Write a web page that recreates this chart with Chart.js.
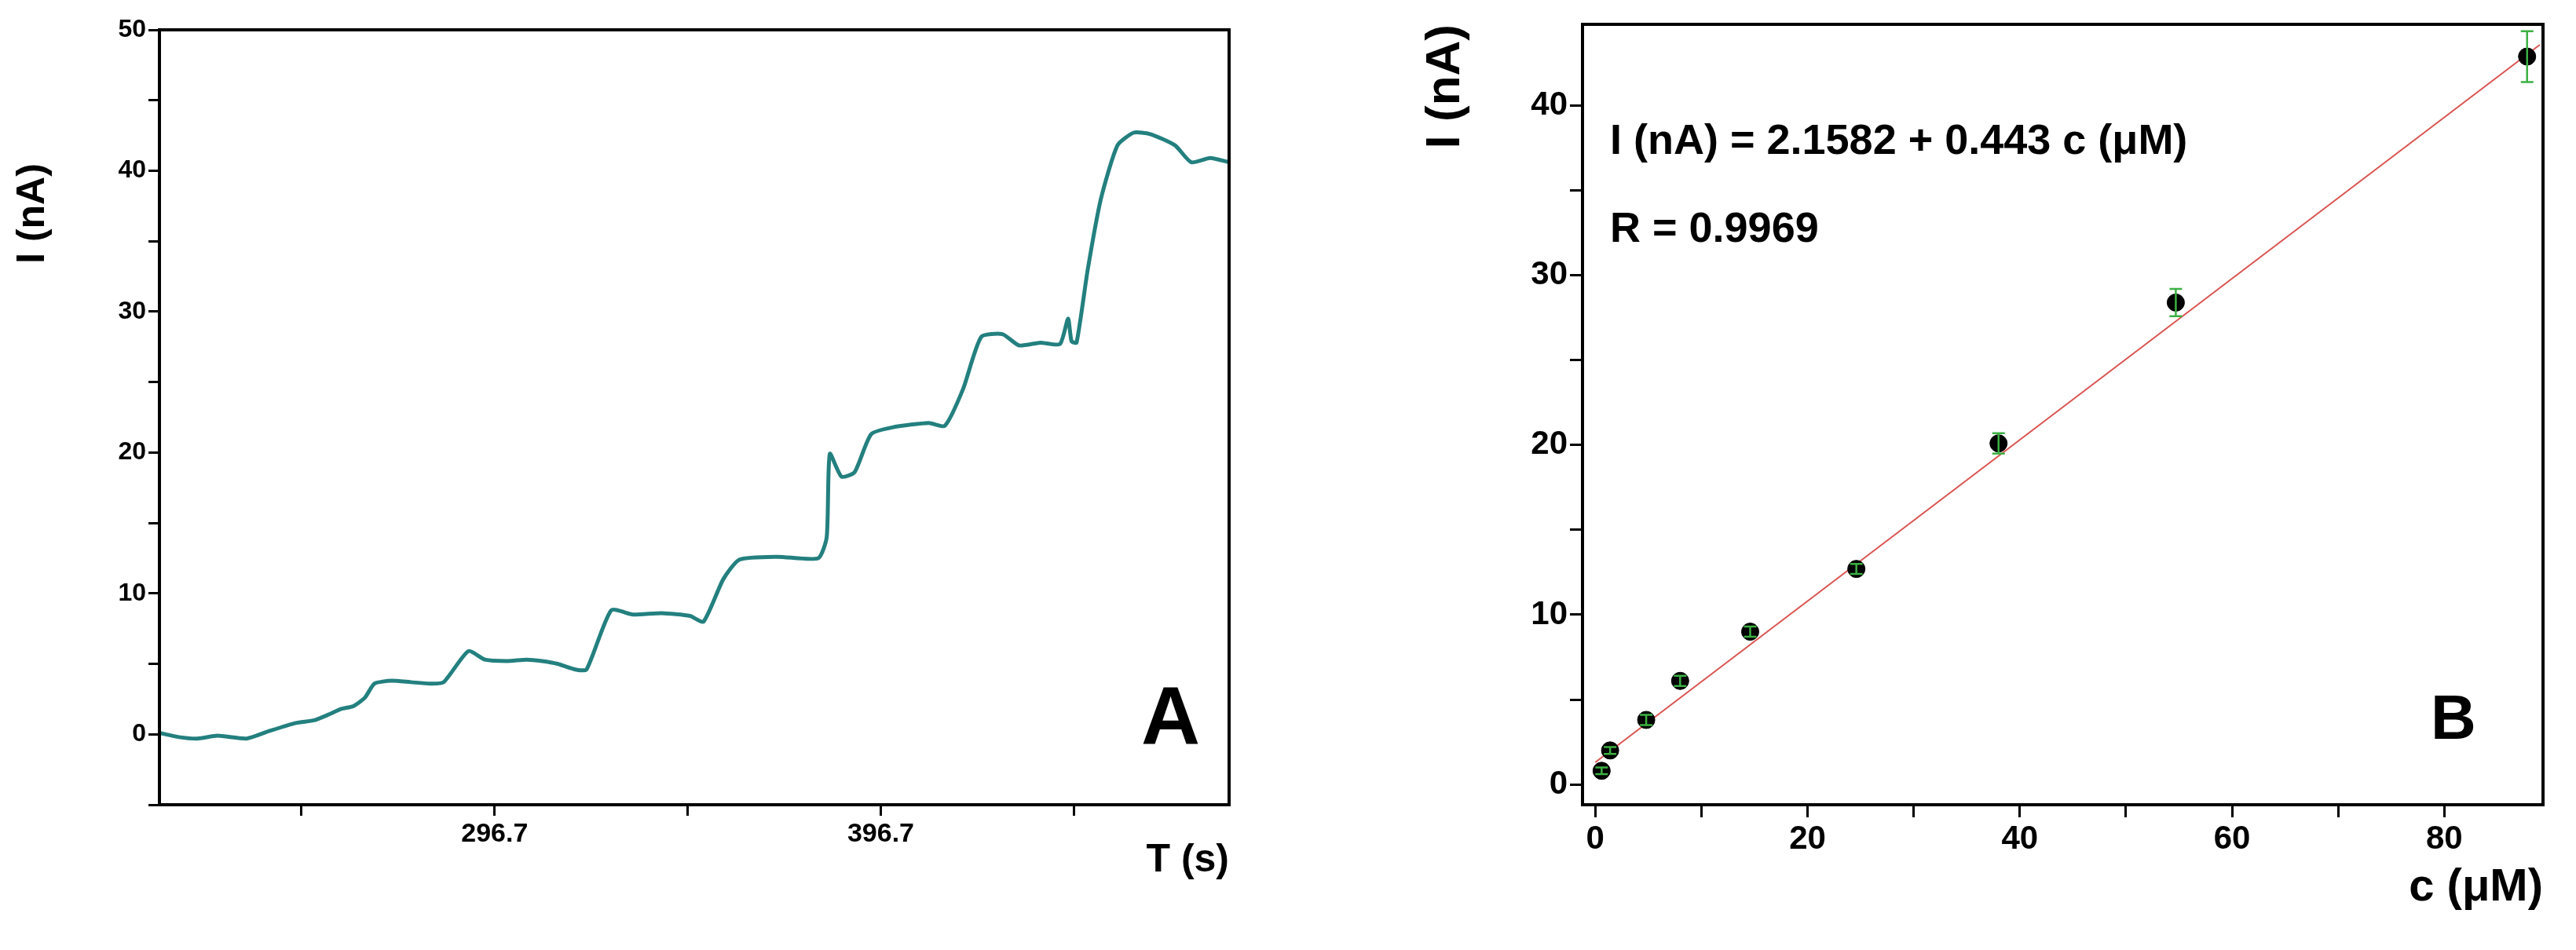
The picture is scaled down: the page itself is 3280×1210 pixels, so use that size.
<!DOCTYPE html>
<html><head><meta charset="utf-8">
<script src="https://cdn.jsdelivr.net/npm/chart.js@4/dist/chart.umd.min.js"></script>
<style>body{margin:0;background:#fff;width:3280px;height:1210px;position:relative;overflow:hidden}
#a{position:absolute;left:0;top:0}#b{position:absolute;left:1800px;top:0}</style></head>
<body><canvas id="a" width="1600" height="1210"></canvas><canvas id="b" width="1480" height="1210"></canvas>
<script>
const timeS=[209.9,215,219.7,225,232.5,238,245.2,250,253.7,257,260.1,263.1,265.6,270,275,280,283.5,289.9,294.2,300,305,309.0,313,317.6,320.5,326.9,332.5,340,347.3,350.8,355.9,360.1,370,380.5,382.7,383.5,386.5,389.9,394.2,400,409.1,413.3,418,422.7,428.2,432.5,438,443.1,445.2,446.1,447.4,450.3,453.7,458.0,462.2,466.5,472.9,477.1,482,486.9];
const currentA=[0.1,-0.2,-0.3,-0.1,-0.3,0.2,0.8,1.0,1.4,1.8,2.0,2.6,3.6,3.8,3.7,3.6,3.7,5.9,5.3,5.2,5.3,5.2,5.0,4.6,4.6,8.8,8.5,8.6,8.4,8.0,11.0,12.4,12.6,12.5,14.0,19.9,18.3,18.6,21.3,21.8,22.1,21.9,24.5,28.2,28.4,27.6,27.8,27.7,29.5,27.9,27.8,33.0,38.0,41.8,42.7,42.6,41.8,40.6,40.9,40.6];
const concUM=[0.6,1.4,4.8,8.0,14.6,24.6,38.0,54.7,87.8];
const currentB=[0.8,2.0,3.8,6.1,9.0,12.7,20.1,28.4,42.9];
const errB=[0.2,0.2,0.3,0.3,0.3,0.3,0.6,0.8,1.5];
const fitX=[0,89];
const fitY=[1.3,43.6];
const xTicksA=[246.7,296.7,346.7,396.7,446.7];
const xLabelsA=['296.7','396.7'];

const F='"Liberation Sans", Arial, sans-serif';
const box={id:'box',afterDraw(c){const a=c.chartArea,x=c.ctx;x.save();x.lineWidth=4;x.strokeStyle='#000';x.strokeRect(a.left,a.top,a.right-a.left,a.bottom-a.top);x.restore();}};
function txt(items){return{id:'txt',afterDraw(c){const x=c.ctx;x.save();x.fillStyle='#000';items.forEach(t=>{x.save();x.font=t.f;x.textAlign=t.al||'left';x.textBaseline='middle';x.translate(t.x,t.y);if(t.rot)x.rotate(-Math.PI/2);x.fillText(t.s,0,0);x.restore();});x.restore();}}}
const errPlug={id:'err',afterDatasetsDraw(c){const xs=c.scales.x,ys=c.scales.y,x=c.ctx;x.save();x.strokeStyle='#3cb043';x.lineWidth=2.5;
concUM.forEach((v,i)=>{const px=xs.getPixelForValue(v),t=ys.getPixelForValue(currentB[i]+errB[i]),b=ys.getPixelForValue(currentB[i]-errB[i]);x.beginPath();x.moveTo(px,t);x.lineTo(px,b);x.moveTo(px-8,t);x.lineTo(px+8,t);x.moveTo(px-8,b);x.lineTo(px+8,b);x.stroke();});x.restore();}};

new Chart(document.getElementById('a'),{type:'line',
data:{datasets:[{data:timeS.map((t,i)=>({x:t,y:currentA[i]})),borderColor:'#23807f',borderWidth:5,pointRadius:0,tension:0.2}]},
options:{responsive:false,animation:false,layout:{padding:{top:38,right:35,bottom:80}},plugins:{legend:{display:false},tooltip:{enabled:false}},
scales:{x:{type:'linear',min:209.9,max:486.9,afterBuildTicks:s=>{s.ticks=xTicksA.map(v=>({value:v}))},
 afterFit:s=>{s.height=105},grid:{drawOnChartArea:false,color:'#000',tickLength:14,lineWidth:3},border:{color:'#000',width:4},
 ticks:{color:'#000',font:{family:F,size:34,weight:'bold'},maxRotation:0,callback:v=>xLabelsA.includes(v.toFixed(1))?v.toFixed(1):''},
 title:{display:true,text:'T (s)',align:'end',color:'#000',font:{family:F,size:50,weight:'bold'},padding:{top:0}}},
y:{min:-5,max:50,afterBuildTicks:s=>{s.ticks=[];for(let v=-5;v<=50;v+=5)s.ticks.push({value:v})},afterFit:s=>{s.width=203},
 grid:{drawOnChartArea:false,color:'#000',tickLength:14,lineWidth:3},border:{color:'#000',width:4},
 ticks:{color:'#000',font:{family:F,size:32,weight:'bold'},callback:v=>v%10===0?v:''}}}},
plugins:[box,txt([{s:'A',x:1250+203,y:880+38,f:'bold 104px '+F},{s:'I (nA)',x:42,y:272,rot:true,al:'center',f:'bold 50px '+F}])]});

new Chart(document.getElementById('b'),{type:'scatter',
data:{datasets:[{type:'line',data:fitX.map((v,i)=>({x:v,y:fitY[i]})),borderColor:'#d9534f',borderWidth:2,pointRadius:0,order:2},
{data:concUM.map((v,i)=>({x:v,y:currentB[i]})),backgroundColor:'#000',borderColor:'#000',pointRadius:11,order:1}]},
options:{responsive:false,animation:false,layout:{padding:{top:31,right:42,bottom:40}},plugins:{legend:{display:false},tooltip:{enabled:false}},
scales:{x:{type:'linear',min:-1.2,max:89.3,afterBuildTicks:s=>{s.ticks=[];for(let v=0;v<=80;v+=10)s.ticks.push({value:v})},afterFit:s=>{s.height=145},
 grid:{drawOnChartArea:false,color:'#000',tickLength:16,lineWidth:3},border:{color:'#000',width:4},
 ticks:{color:'#000',font:{family:F,size:42,weight:'bold'},maxRotation:0,callback:v=>v%20===0?v:''},
 title:{display:true,text:'c (μM)',align:'end',color:'#000',font:{family:F,size:58,weight:'bold'},padding:{top:0}}},
y:{min:-1.2,max:44.8,afterBuildTicks:s=>{s.ticks=[];for(let v=0;v<=40;v+=5)s.ticks.push({value:v})},afterFit:s=>{s.width=215},
 grid:{drawOnChartArea:false,color:'#000',tickLength:16,lineWidth:3},border:{color:'#000',width:4},
 ticks:{color:'#000',font:{family:F,size:42,weight:'bold'},callback:v=>v%10===0?v:''},
 title:{display:true,text:'I (nA)',align:'end',color:'#000',font:{family:F,size:62,weight:'bold'},padding:{bottom:10}}}}},
plugins:[box,errPlug,txt([{s:'I (nA) = 2.1582 + 0.443 c (μM)',x:250,y:181,f:'bold 54px '+F},{s:'R = 0.9969',x:250,y:293,f:'bold 54px '+F},{s:'B',x:1295,y:919,f:'bold 80px '+F}])]});
</script></body></html>
